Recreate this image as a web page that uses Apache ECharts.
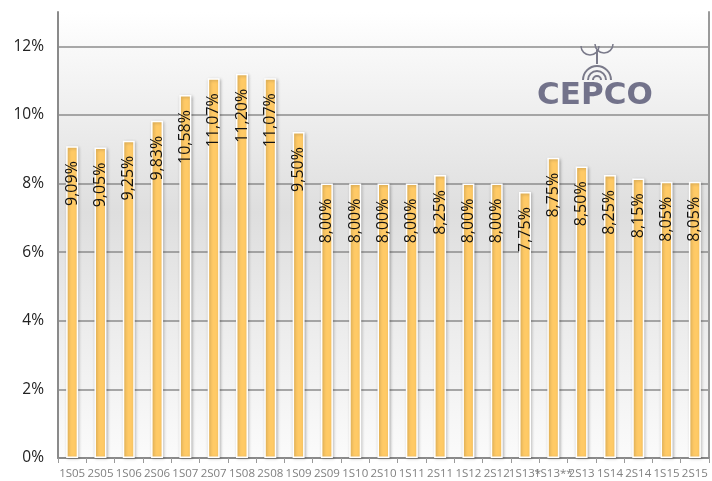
<!DOCTYPE html>
<html>
<head>
<meta charset="utf-8">
<script src="https://cdn.jsdelivr.net/npm/echarts@6/dist/echarts.min.js"></script>
<style>
html,body{margin:0;padding:0;background:#fff;}
#chart{width:712px;height:481px;}
</style>
</head>
<body>
<div id="chart"></div>
<script>
const categories = ['1S05','2S05','1S06','2S06','1S07','2S07','1S08','2S08','1S09','2S09','1S10','2S10','1S11','2S11','1S12','2S12','1S13*','1S13**','2S13','1S14','2S14','1S15','2S15'];
const rates = [9.09,9.05,9.25,9.83,10.58,11.07,11.20,11.07,9.50,8.00,8.00,8.00,8.00,8.25,8.00,8.00,7.75,8.75,8.50,8.25,8.15,8.05,8.05];
const yTickLabels = ['0%','2%','4%','6%','8%','10%','12%'];

const chart = echarts.init(document.getElementById('chart'));
const fmt = v => v.toFixed(2).replace('.', ',') + '%';

chart.setOption({
  animation: false,
  grid: {
    left: 58, right: 3, top: 12, bottom: 23,
    show: true,
    borderWidth: 0,
    backgroundColor: {
      type: 'linear', x: 0, y: 0, x2: 0, y2: 1,
      colorStops: [
        {offset: 0, color: '#ffffff'},
        {offset: 0.12, color: '#f6f6f6'},
        {offset: 0.45, color: '#dedede'},
        {offset: 0.7, color: '#ececec'},
        {offset: 1, color: '#fbfbfb'}
      ]
    }
  },
  xAxis: {
    type: 'category',
    data: categories,
    axisLine: {lineStyle: {color: '#8a8a8a', width: 2}},
    axisTick: {show: true, length: 5, lineStyle: {color: '#9a9a9a', width: 1}},
    axisLabel: {
      interval: 0, hideOverlap: false, margin: 10,
      color: '#808080', fontSize: 11.5, fontFamily: 'Open Sans, Noto Sans, sans-serif'
    }
  },
  yAxis: [{
    type: 'value', min: 0, max: 13, interval: 2,
    axisLine: {show: true, lineStyle: {color: '#8a8a8a', width: 2}},
    axisTick: {show: false},
    axisLabel: {
      showMaxLabel: false, margin: 14,
      color: '#222', fontSize: 15.5, fontFamily: 'Open Sans, Noto Sans, sans-serif',
      formatter: v => yTickLabels[v / 2] || ''
    },
    splitLine: {show: true, showMaxLine: false, lineStyle: {color: '#8c8c8c', width: 1.6}}
  }, {
    type: 'value', min: 0, max: 13, interval: 2, position: 'right',
    axisLine: {show: true, lineStyle: {color: '#9a9a9a', width: 2}},
    axisTick: {show: false}, axisLabel: {show: false}, splitLine: {show: false}
  }],
  series: [{
    type: 'bar',
    data: rates,
    barWidth: 12,
    itemStyle: {
      color: '#ffca66',
      borderColor: '#ffffff', borderWidth: 1.5,
      shadowColor: 'rgba(0,0,0,0.25)', shadowBlur: 3, shadowOffsetX: 1, shadowOffsetY: 1
    },
    label: {
      show: true, position: 'insideTop', rotate: 90,
      align: 'right', verticalAlign: 'middle', distance: 15,
      color: '#111', fontSize: 16, fontFamily: 'Open Sans, Noto Sans, sans-serif',
      formatter: p => fmt(p.value)
    }
  }],
  graphic: [
    {type: 'text', left: 537, top: 80, z: 10,
     style: {text: 'CEPCO', fill: '#5c5c78', font: 'bold 31px "DejaVu Sans", sans-serif', opacity: 0.85}},
    {type: 'arc', shape: {cx: 597, cy: 80, r: 14, startAngle: Math.PI, endAngle: 2 * Math.PI},
     style: {stroke: '#7a7a8a', fill: null, lineWidth: 2}, z: 10},
    {type: 'arc', shape: {cx: 597, cy: 80, r: 9, startAngle: Math.PI, endAngle: 2 * Math.PI},
     style: {stroke: '#7a7a8a', fill: null, lineWidth: 2}, z: 10},
    {type: 'arc', shape: {cx: 597, cy: 80, r: 4, startAngle: Math.PI, endAngle: 2 * Math.PI},
     style: {stroke: '#7a7a8a', fill: null, lineWidth: 2}, z: 10},
    {type: 'arc', shape: {cx: 590, cy: 46, r: 9, startAngle: 0, endAngle: Math.PI},
     style: {stroke: '#7a7a8a', fill: null, lineWidth: 1.5}, z: 10},
    {type: 'arc', shape: {cx: 604, cy: 44, r: 9, startAngle: 0, endAngle: Math.PI},
     style: {stroke: '#7a7a8a', fill: null, lineWidth: 1.5}, z: 10},
    {type: 'line', shape: {x1: 597, y1: 50, x2: 597, y2: 64},
     style: {stroke: '#7a7a8a', lineWidth: 2}, z: 10}
  ]
});
</script>
</body>
</html>
